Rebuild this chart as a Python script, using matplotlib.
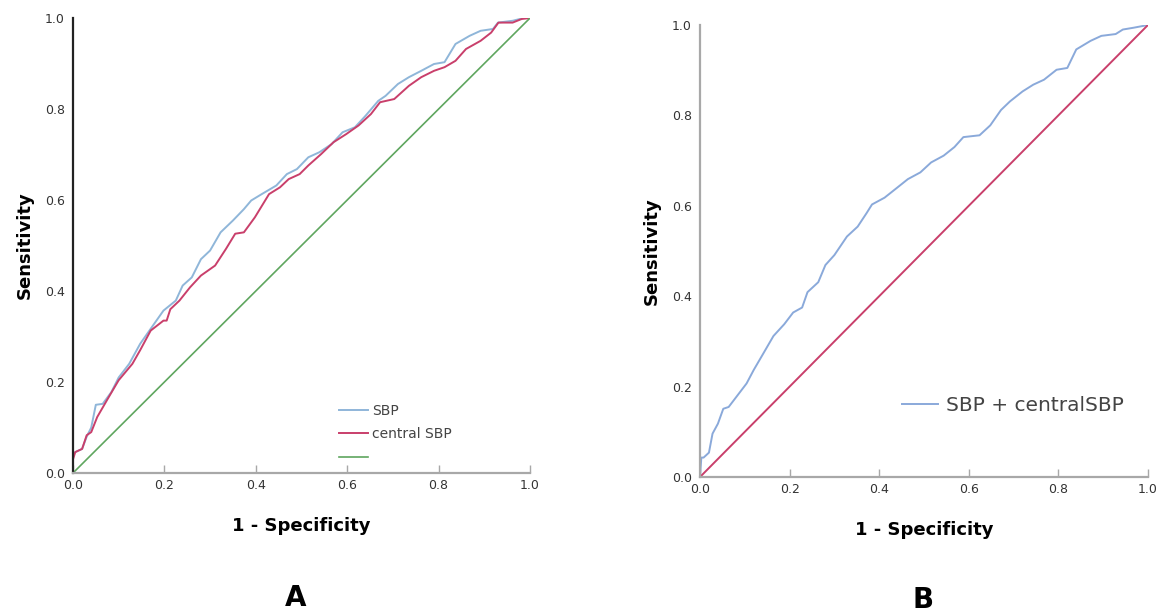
import matplotlib.pyplot as plt

# panel A: SBP ROC curve
sbp_x = [0, 0, 0.005, 0.02, 0.03, 0.04, 0.05, 0.065, 0.084, 0.10, 0.123, 0.147, 0.17, 0.198,
         0.225, 0.24, 0.26, 0.28, 0.30, 0.323, 0.35, 0.374, 0.39, 0.413, 0.445, 0.468, 0.49,
         0.515, 0.539, 0.566, 0.59, 0.617, 0.64, 0.668, 0.684, 0.711, 0.735, 0.762, 0.79,
         0.813, 0.837, 0.868, 0.892, 0.919, 0.93, 0.962, 0.986, 1.0]
sbp_y = [0, 0.04, 0.046, 0.053, 0.08, 0.10, 0.15, 0.152, 0.178, 0.21, 0.24, 0.284, 0.317, 0.357,
         0.379, 0.412, 0.43, 0.47, 0.489, 0.529, 0.555, 0.58, 0.599, 0.613, 0.632, 0.657, 0.668,
         0.694, 0.705, 0.723, 0.749, 0.76, 0.785, 0.818, 0.829, 0.855, 0.87, 0.884, 0.899,
         0.903, 0.943, 0.961, 0.972, 0.976, 0.99, 0.994, 1.0, 1.0]

# panel A: central SBP ROC curve
csbp_x = [0, 0, 0.005, 0.02, 0.03, 0.04, 0.053, 0.076, 0.10, 0.13, 0.147, 0.17, 0.198, 0.205,
          0.213, 0.233, 0.256, 0.28, 0.311, 0.335, 0.355, 0.374, 0.398, 0.429, 0.453, 0.472,
          0.496, 0.515, 0.543, 0.57, 0.598, 0.625, 0.652, 0.672, 0.703, 0.735, 0.762, 0.79,
          0.813, 0.837, 0.86, 0.892, 0.915, 0.931, 0.962, 0.982, 1.0]
csbp_y = [0, 0.03, 0.046, 0.053, 0.083, 0.09, 0.123, 0.163, 0.204, 0.24, 0.27, 0.313, 0.335,
          0.335, 0.36, 0.379, 0.408, 0.434, 0.456, 0.493, 0.526, 0.529, 0.562, 0.613, 0.628,
          0.646, 0.657, 0.676, 0.701, 0.727, 0.745, 0.764, 0.789, 0.815, 0.822, 0.851, 0.87,
          0.884, 0.892, 0.906, 0.932, 0.95, 0.968, 0.99, 0.99, 0.998, 1.0]

# panel B: SBP + central SBP combined
comb_x = [0, 0.003, 0.008, 0.02, 0.028, 0.04, 0.052, 0.064, 0.084, 0.104, 0.12, 0.14, 0.164,
          0.188, 0.208, 0.228, 0.24, 0.264, 0.28, 0.30, 0.328, 0.352, 0.372, 0.384, 0.412,
          0.44, 0.464, 0.492, 0.516, 0.544, 0.568, 0.588, 0.624, 0.648, 0.672, 0.692, 0.72,
          0.744, 0.768, 0.796, 0.82, 0.84, 0.872, 0.896, 0.928, 0.944, 0.968, 1.0]
comb_y = [0, 0.043, 0.043, 0.054, 0.096, 0.118, 0.151, 0.155, 0.181, 0.207, 0.237, 0.271,
          0.312, 0.338, 0.364, 0.375, 0.409, 0.431, 0.469, 0.491, 0.532, 0.554, 0.584, 0.603,
          0.618, 0.64, 0.659, 0.674, 0.696, 0.711, 0.73, 0.752, 0.756, 0.778, 0.812, 0.831,
          0.853, 0.868, 0.879, 0.901, 0.905, 0.946, 0.965, 0.976, 0.98, 0.99, 0.994, 1.0]

ref = [0, 1]
ticks = [0.0, 0.2, 0.4, 0.6, 0.8, 1.0]
ticklabels = ["0.0", "0.2", "0.4", "0.6", "0.8", "1.0"]

blue = "#8fb6d9"
red = "#c93f6b"
green = "#5fa65f"
spine_grey = "#a8a8a8"

fig = plt.figure(figsize=(11.62, 6.16), dpi=100)
axA = fig.add_axes([0.0628, 0.2321, 0.3933, 0.7386])
axB = fig.add_axes([0.6024, 0.2256, 0.3855, 0.7338])

def style(ax, left_col):
    ax.set_xlim(0, 1)
    ax.set_ylim(0, 1)
    ax.set_xticks(ticks)
    ax.set_yticks(ticks)
    ax.set_xticklabels(ticklabels)
    ax.set_yticklabels(ticklabels)
    for s in ["top", "right"]:
        ax.spines[s].set_visible(False)
    ax.spines["bottom"].set_color(spine_grey)
    ax.spines["bottom"].set_linewidth(1.6)
    ax.spines["left"].set_color(left_col)
    ax.spines["left"].set_linewidth(1.6)
    ax.tick_params(axis="x", direction="in", length=6, color=spine_grey, width=1,
                   labelsize=9, labelcolor="#333333", pad=4)
    ax.tick_params(axis="y", length=0, labelsize=9, labelcolor="#333333", pad=6)
    ax.set_ylabel("Sensitivity", fontsize=13, fontweight="bold", labelpad=8)
    ax.set_xlabel("1 - Specificity", fontsize=13, fontweight="bold", labelpad=18)

# A
axA.plot(sbp_x, sbp_y, color=blue, lw=1.4, label="SBP")
axA.plot(csbp_x, csbp_y, color=red, lw=1.4, label="central SBP")
axA.plot(ref, ref, color=green, lw=1.2, label=" ")
style(axA, "#222222")
axA.legend(loc="upper left", bbox_to_anchor=(0.555, 0.18), frameon=False, fontsize=10,
           handlelength=2.1, handletextpad=0.3, labelspacing=0.7, labelcolor="#444444")

# B
axB.plot(comb_x, comb_y, color="#8aa9da", lw=1.4, label="SBP + centralSBP")
axB.plot(ref, ref, color=red, lw=1.4)
style(axB, spine_grey)
axB.legend(loc="upper left", bbox_to_anchor=(0.41, 0.22), frameon=False, fontsize=14.5,
           handlelength=1.8, handletextpad=0.4, labelcolor="#444444")

fig.text(296 / 1162, 1 - 598 / 616, "A", fontsize=20, fontweight="bold", ha="center", va="center")
fig.text(923 / 1162, 1 - 600 / 616, "B", fontsize=20, fontweight="bold", ha="center", va="center")

fig.savefig("out.png", dpi=100)
